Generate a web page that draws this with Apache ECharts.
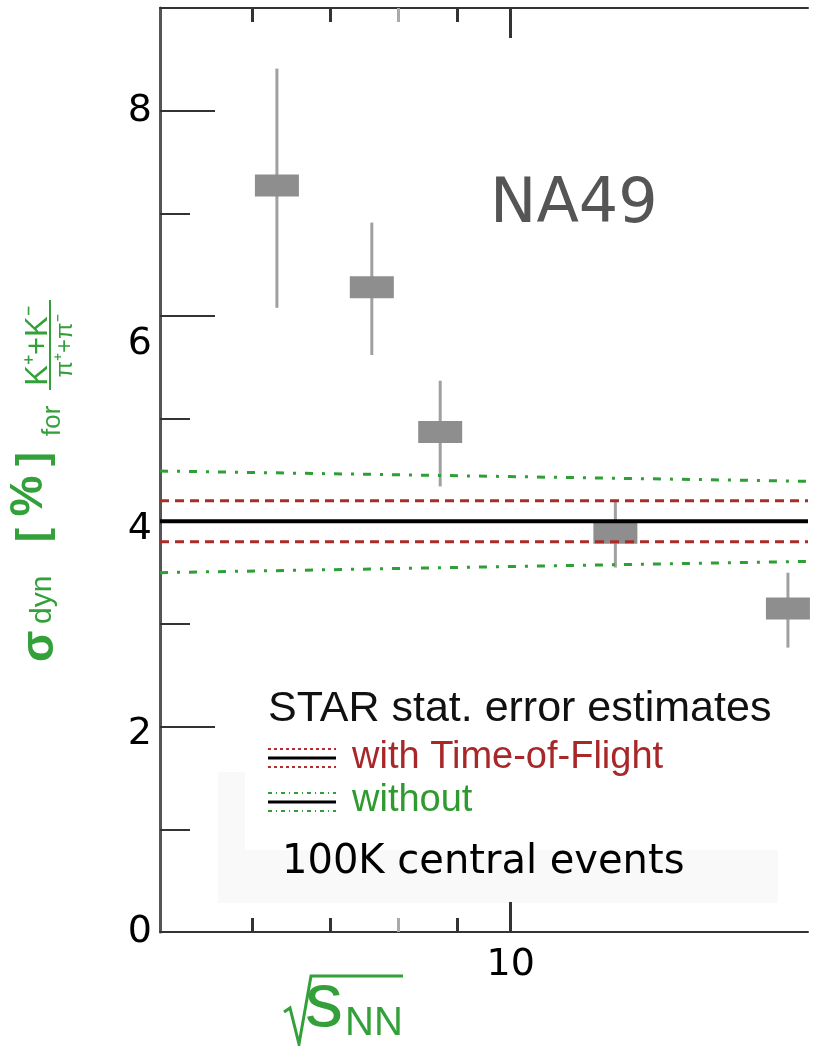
<!DOCTYPE html>
<html>
<head>
<meta charset="utf-8">
<script src="https://cdn.jsdelivr.net/npm/echarts@6/dist/echarts.min.js"></script>
<style>
  html, body { margin: 0; padding: 0; background: #fff; }
  #chart { width: 813px; height: 1046px; }
</style>
</head>
<body>
<div id="chart"></div>
<script>
// NA49 points: sqrt(s_NN) in GeV, sigma_dyn in %
const sqrtS = [6.3, 7.6, 8.7, 12.3, 17.3];
const sigmaDyn = [7.27, 6.28, 4.87, 3.89, 3.15];
const errLow = [6.08, 5.62, 4.34, 3.55, 2.77];
const errHigh = [8.41, 6.91, 5.37, 4.21, 3.50];

// STAR estimates, value at left and right edge of the plot
const bandX = [5, 18];
const starMean = [4.0, 4.0];
const tofUpper = [4.2, 4.2];
const tofLower = [3.8, 3.8];
const noTofUpper = [4.49, 4.39];
const noTofLower = [3.50, 3.61];

// ticks
const xShortTicks = [6, 7, 9];
const xGrayTicks = [8];
const xLongTicks = [10];
const xLabels = [10];
const yMajorTicks = [0, 2, 4, 6, 8];
const yMinorTicks = [1, 3, 5, 7];

const GREEN = '#33a03a';
const RED = '#a8282a';
const LABEL_FONT = 'DejaVu Sans';
const SANS = 'Liberation Sans';

const chart = echarts.init(document.getElementById('chart'));

function xAxisOf(pos, ticks, len, color, showLine, labels) {
  return {
    type: 'log', logBase: 10, min: 5, max: 18, position: pos,
    axisLine: { show: showLine, onZero: false, lineStyle: { color: '#333', width: 2 } },
    axisTick: { show: true, inside: true, length: len, customValues: ticks,
                lineStyle: { color: color, width: 3 } },
    axisLabel: labels ? { show: true, customValues: labels, margin: 14,
                          fontFamily: LABEL_FONT, fontSize: 38, color: '#000' }
                      : { show: false },
    splitLine: { show: false }, minorTick: { show: false }
  };
}

// the printed y labels sit a little below some of their ticks
const yLabelStyle = { fontFamily: LABEL_FONT, fontSize: 38, color: '#000' };
function yAxisOf(ticks, len, showLine, labels) {
  return {
    type: 'value', min: 0, max: 9, position: 'left',
    axisLine: { show: showLine, onZero: false, lineStyle: { color: '#555', width: 3 } },
    axisTick: { show: true, inside: true, length: len, customValues: ticks,
                lineStyle: { color: '#333', width: 2 } },
    axisLabel: labels ? Object.assign({ show: true, customValues: labels, margin: 8,
                          formatter: v => (v === 6 || v === 4 || v === 2) ? '{d' + v + '|' + v + '}' : String(v),
                          rich: {
                            d6: Object.assign({ padding: [56, 0, 0, 0] }, yLabelStyle),
                            d4: Object.assign({ padding: [16, 0, 0, 0] }, yLabelStyle),
                            d2: Object.assign({ padding: [14, 0, 0, 0] }, yLabelStyle)
                          } }, yLabelStyle)
                      : { show: false },
    splitLine: { show: false }
  };
}

function band(yVals, color, width, type) {
  return {
    type: 'line', xAxisIndex: 0, yAxisIndex: 0, z: 4,
    data: bandX.map((x, i) => [x, yVals[i]]),
    symbol: 'none', silent: true,
    lineStyle: { color: color, width: width, type: type }
  };
}

function gText(x, y, text, size, extra) {
  return { type: 'text', x: x, y: y, style: Object.assign({ text: text, fontFamily: SANS,
    fontSize: size, fill: GREEN, align: 'left', verticalAlign: 'middle' }, extra || {}) };
}

const option = {
  backgroundColor: '#fff',
  animation: false,
  grid: { left: 160, right: 5, top: 8, bottom: 114 },
  xAxis: [
    xAxisOf('bottom', xShortTicks, 14, '#333', true, xLabels),
    xAxisOf('bottom', xLongTicks, 30, '#333', false, null),
    xAxisOf('bottom', xGrayTicks, 14, '#aaa', false, null),
    xAxisOf('top', xShortTicks, 14, '#333', true, null),
    xAxisOf('top', xLongTicks, 30, '#333', false, null),
    xAxisOf('top', xGrayTicks, 14, '#aaa', false, null)
  ],
  yAxis: [
    yAxisOf(yMajorTicks, 55, true, yMajorTicks),
    yAxisOf(yMinorTicks, 30, false, null)
  ],
  series: [
    {
      type: 'custom', xAxisIndex: 0, yAxisIndex: 0, z: 3,
      data: sqrtS.map((x, i) => [x, sigmaDyn[i], errLow[i], errHigh[i]]),
      renderItem: function (params, api) {
        const c = api.coord([api.value(0), api.value(1)]);
        const lo = api.coord([api.value(0), api.value(2)]);
        const hi = api.coord([api.value(0), api.value(3)]);
        return {
          type: 'group',
          children: [
            { type: 'line', shape: { x1: c[0], y1: hi[1], x2: c[0], y2: lo[1] },
              style: { stroke: '#a0a0a0', lineWidth: 3 } },
            { type: 'rect', shape: { x: c[0] - 22, y: c[1] - 11, width: 44, height: 22 },
              style: { fill: '#8e8e8e' } }
          ]
        };
      }
    },
    band(noTofUpper, '#2e9e35', 3, [8, 9, 3, 9]),
    band(noTofLower, '#2e9e35', 3, [8, 9, 3, 9]),
    band(tofUpper, '#a82c2a', 3, [9, 6]),
    band(tofLower, '#a82c2a', 3, [9, 6]),
    band(starMean, '#000', 4, 'solid')
  ],
  graphic: [
    // faint background patch behind legend
    { type: 'rect', z: -1, shape: { x: 218, y: 772, width: 27, height: 78 }, style: { fill: '#f9f9f9' } },
    { type: 'rect', z: -1, shape: { x: 218, y: 850, width: 560, height: 53 }, style: { fill: '#f9f9f9' } },

    { type: 'text', x: 490, y: 206, style: { text: 'NA49', fontFamily: LABEL_FONT, fontSize: 62,
      fill: '#555', align: 'left', verticalAlign: 'middle' } },

    // legend
    { type: 'text', x: 268, y: 709, style: { text: 'STAR stat. error estimates', fontFamily: SANS,
      fontSize: 43, fill: '#111', align: 'left', verticalAlign: 'middle' } },
    { type: 'line', shape: { x1: 268, y1: 749, x2: 336, y2: 749 }, style: { stroke: '#b0302e', lineWidth: 2, lineDash: [3, 3] } },
    { type: 'line', shape: { x1: 268, y1: 758, x2: 336, y2: 758 }, style: { stroke: '#000', lineWidth: 3 } },
    { type: 'line', shape: { x1: 268, y1: 767, x2: 336, y2: 767 }, style: { stroke: '#b0302e', lineWidth: 2, lineDash: [3, 3] } },
    { type: 'text', x: 352, y: 758, style: { text: 'with Time-of-Flight', fontFamily: SANS,
      fontSize: 38, fill: RED, align: 'left', verticalAlign: 'middle' } },
    { type: 'line', shape: { x1: 268, y1: 793, x2: 336, y2: 793 }, style: { stroke: '#2e9e35', lineWidth: 2, lineDash: [4, 4, 1, 4] } },
    { type: 'line', shape: { x1: 268, y1: 802, x2: 336, y2: 802 }, style: { stroke: '#000', lineWidth: 3 } },
    { type: 'line', shape: { x1: 268, y1: 811, x2: 336, y2: 811 }, style: { stroke: '#2e9e35', lineWidth: 2, lineDash: [4, 4, 1, 4] } },
    { type: 'text', x: 352, y: 801, style: { text: 'without', fontFamily: SANS,
      fontSize: 38, fill: '#2f9a2f', align: 'left', verticalAlign: 'middle' } },
    { type: 'text', x: 282, y: 863, style: { text: '100K central events', fontFamily: LABEL_FONT,
      fontSize: 40, fill: '#000', align: 'left', verticalAlign: 'middle' } },

    // x axis name: sqrt(s_NN)
    { type: 'polyline', shape: { points: [[284, 1012], [290, 1008], [299, 1044], [311, 976], [403, 976]] },
      style: { stroke: GREEN, lineWidth: 3, fill: null } },
    gText(305, 1005, 's', 76),
    gText(345, 1024, 'NN', 40),

    // y axis name, rotated to read bottom to top
    {
      type: 'group', x: 50, y: 662, rotation: Math.PI / 2,
      children: [
        gText(0, -10, 'σ', 46, { fontWeight: 'bold' }),
        gText(38, -7, 'dyn', 30),
        gText(120, -16, '[', 42, { fontWeight: 'bold' }),
        gText(166, -21, '%', 46, { fontWeight: 'bold', align: 'center' }),
        gText(196, -16, ']', 42, { fontWeight: 'bold' }),
        gText(226, 3, 'for', 26),
        gText(316, -12, 'K⁺+K⁻', 31, { align: 'center' }),
        { type: 'line', shape: { x1: 272, y1: 0, x2: 362, y2: 0 }, style: { stroke: GREEN, lineWidth: 2 } },
        gText(316, 15, 'π⁺+π⁻', 24, { align: 'center' })
      ]
    }
  ]
};
chart.setOption(option);
</script>
</body>
</html>
